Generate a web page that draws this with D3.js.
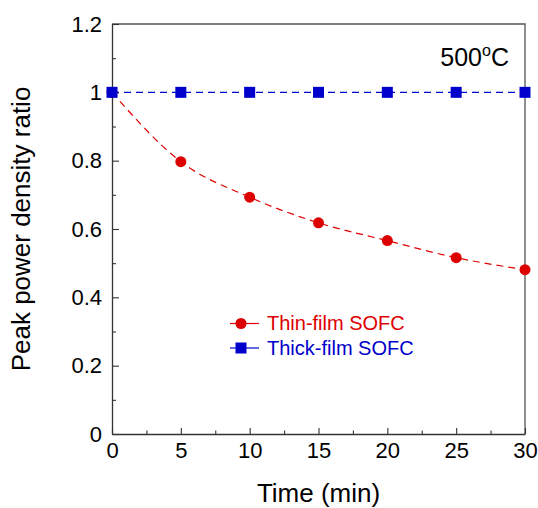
<!DOCTYPE html>
<html>
<head>
<meta charset="utf-8">
<script src="https://cdn.jsdelivr.net/npm/d3@7"></script>
<style>
body { margin: 0; background: #fff; }
svg { font-family: "Liberation Sans", Arial, sans-serif; }
</style>
</head>
<body>
<div id="chart-area"></div>
<script>
// data
var times = [0, 5, 10, 15, 20, 25, 30];
var thinFilm = [1, 0.797, 0.693, 0.618, 0.566, 0.516, 0.481];
var thickFilm = [1, 1, 1, 1, 1, 1, 1];
var xTicks = [0, 5, 10, 15, 20, 25, 30];
var yTicks = [0, 0.2, 0.4, 0.6, 0.8, 1, 1.2];

var margin = { left: 112, right: 13, top: 24, bottom: 74 };
var width = 538 - margin.left - margin.right;
var height = 508 - margin.top - margin.bottom;

var svg = d3.select("#chart-area").append("svg")
	.attr("width", 538)
	.attr("height", 508);

var g = svg.append("g")
	.attr("transform", "translate(" + margin.left + "," + margin.top + ")");

var x = d3.scaleLinear().domain([0, 30]).range([0, width]);
var y = d3.scaleLinear().domain([0, 1.2]).range([height, 0]);

// frame (top/right)
g.append("path")
	.attr("d", "M0,0H" + width + "V" + height)
	.attr("fill", "none")
	.attr("stroke", "#555")
	.attr("stroke-width", 1.3);

// minor ticks
var xMinor = d3.range(2.5, 30, 5);
var yMinor = d3.range(0.1, 1.2, 0.2);

var xAxisGroup = g.append("g").attr("transform", "translate(0," + height + ")");
xAxisGroup.call(d3.axisBottom(x).tickValues(xTicks).tickSizeInner(-6).tickSizeOuter(0).tickPadding(8).tickFormat(d3.format("d")));
g.append("g").attr("transform", "translate(0," + height + ")")
	.call(d3.axisBottom(x).tickValues(xMinor).tickSizeInner(-3.5).tickSizeOuter(0).tickFormat(""))
	.select(".domain").remove();

var yAxisGroup = g.append("g");
yAxisGroup.call(d3.axisLeft(y).tickValues(yTicks).tickSizeInner(-7).tickSizeOuter(0).tickPadding(10).tickFormat(function (d) { return d3.format("")(+d.toFixed(1)); }));
g.append("g")
	.call(d3.axisLeft(y).tickValues(yMinor).tickSizeInner(-4).tickSizeOuter(0).tickFormat(""))
	.select(".domain").remove();

g.selectAll(".domain").attr("stroke", "#333").attr("stroke-width", 1.3);
g.selectAll(".tick line").attr("stroke", "#333").attr("stroke-width", 1.1);
g.selectAll(".tick text").attr("font-size", "22px").attr("fill", "#000").attr("font-family", "Liberation Sans, Arial, sans-serif");

// lines
var thinData = times.map(function (t, i) { return { t: t, v: thinFilm[i] }; });
var thickData = times.map(function (t, i) { return { t: t, v: thickFilm[i] }; });

var line = d3.line()
	.x(function (d) { return x(d.t); })
	.y(function (d) { return y(d.v); })
	.curve(d3.curveMonotoneX);

g.append("path")
	.datum(thickData)
	.attr("d", line)
	.attr("fill", "none")
	.attr("stroke", "#0000cc")
	.attr("stroke-width", 1.2)
	.attr("stroke-dasharray", "7,5");

g.append("path")
	.datum(thinData)
	.attr("d", line)
	.attr("fill", "none")
	.attr("stroke", "#e00000")
	.attr("stroke-width", 1.2)
	.attr("stroke-dasharray", "7,5");

g.selectAll("circle.thin").data(thinData).enter().append("circle")
	.attr("class", "thin")
	.attr("cx", function (d) { return x(d.t); })
	.attr("cy", function (d) { return y(d.v); })
	.attr("r", 5.5)
	.attr("fill", "#dd0000");

g.selectAll("rect.thick").data(thickData).enter().append("rect")
	.attr("class", "thick")
	.attr("x", function (d) { return x(d.t) - 5.5; })
	.attr("y", function (d) { return y(d.v) - 5.5; })
	.attr("width", 11)
	.attr("height", 11)
	.attr("fill", "#0000cc");

// legend
var legend = g.append("g").attr("transform", "translate(118,299.5)");
var legendItems = [
	{ name: "Thin-film SOFC", color: "#dd0000", shape: "circle" },
	{ name: "Thick-film SOFC", color: "#0000cc", shape: "square" }
];
legendItems.forEach(function (item, i) {
	var row = legend.append("g").attr("transform", "translate(0," + (i * 24.5) + ")");
	row.append("line")
		.attr("x1", 0).attr("x2", 29)
		.attr("stroke", item.color)
		.attr("stroke-width", 1.2);
	if (item.shape === "circle") {
		row.append("circle").attr("cx", 11).attr("r", 5.5).attr("fill", item.color);
	} else {
		row.append("rect").attr("x", 5.5).attr("y", -5.5).attr("width", 11).attr("height", 11).attr("fill", item.color);
	}
	row.append("text")
		.attr("x", 37)
		.attr("y", 6.5)
		.attr("font-size", "20px")
		.attr("fill", item.color)
		.text(item.name);
});

// temperature label
var tempLabel = g.append("text")
	.attr("x", width - 16)
	.attr("y", 42)
	.attr("text-anchor", "end")
	.attr("font-size", "25px")
	.attr("fill", "#000");
tempLabel.append("tspan").text("500");
tempLabel.append("tspan").attr("font-size", "16px").attr("dy", -10).text("o");
tempLabel.append("tspan").attr("dy", 10).text("C");

// axis labels
g.append("text")
	.attr("x", width / 2)
	.attr("y", height + 68)
	.attr("text-anchor", "middle")
	.attr("font-size", "26px")
	.text("Time (min)");

g.append("text")
	.attr("transform", "rotate(-90)")
	.attr("x", -height / 2)
	.attr("y", -82.5)
	.attr("text-anchor", "middle")
	.attr("font-size", "26px")
	.text("Peak power density ratio");
</script>
</body>
</html>
